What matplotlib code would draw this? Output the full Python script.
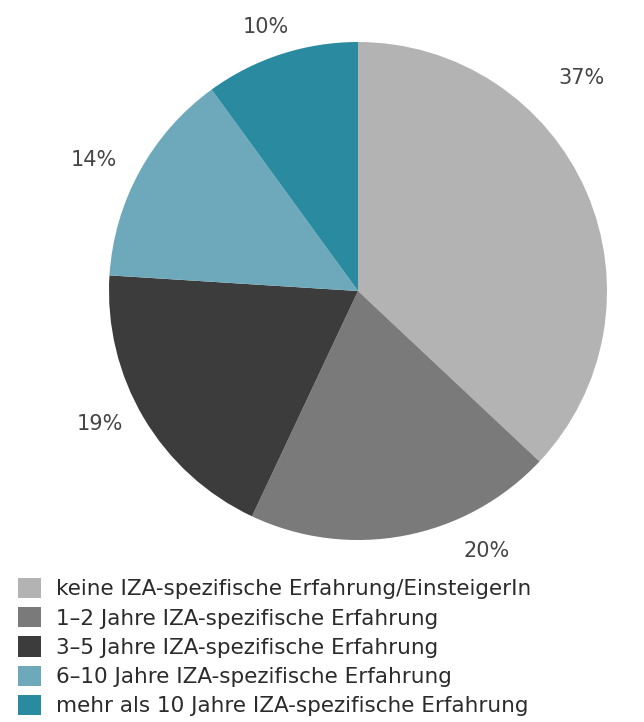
import matplotlib.pyplot as plt

plt.rcParams['font.family'] = ['DejaVu Sans']

labels = ["keine IZA-spezifische Erfahrung/EinsteigerIn",
          "1–2 Jahre IZA-spezifische Erfahrung",
          "3–5 Jahre IZA-spezifische Erfahrung",
          "6–10 Jahre IZA-spezifische Erfahrung",
          "mehr als 10 Jahre IZA-spezifische Erfahrung"]
values = [37, 20, 19, 14, 10]
colors = ["#b3b3b3", "#7a7a7a", "#3c3c3c", "#6ea9bb", "#2a8aa0"]
# label spots in pixels (x, y from top)
label_pos = [(582, 78), (487, 551), (100, 424), (94, 160), (266, 27)]

W, H = 644, 722
fig = plt.figure(figsize=(W / 100, H / 100), dpi=100)
ax = fig.add_axes([0, 0, 1, 1])

wedges, _ = ax.pie(values, colors=colors, startangle=90, counterclock=False,
                   center=(358, H - 291), radius=249, frame=True)
ax.set_xlim(0, W)
ax.set_ylim(0, H)
ax.set_aspect('equal')
ax.axis('off')

for v, (x, y) in zip(values, label_pos):
    ax.text(x, H - y, f"{v}%", ha='center', va='center', fontsize=15, color='#454545')

fig.legend(wedges, labels, loc='upper left', bbox_to_anchor=(18 / W, 1 - 578 / H),
           frameon=False, fontsize=15.5, handlelength=1.07, handleheight=1.07,
           handletextpad=0.7, labelspacing=0.36, borderpad=0, borderaxespad=0,
           labelcolor='#2b2b2b')

fig.savefig("out.png", dpi=100)
